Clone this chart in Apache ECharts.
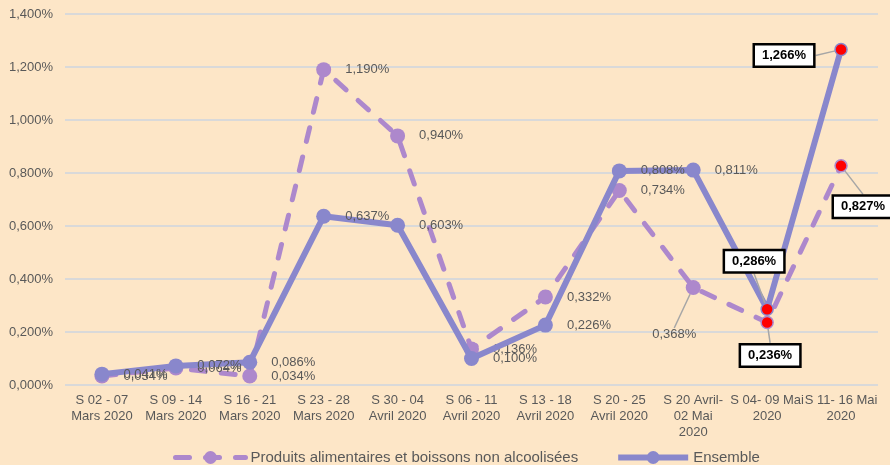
<!DOCTYPE html>
<html>
<head>
<meta charset="utf-8">
<script src="https://cdn.jsdelivr.net/npm/echarts@6/dist/echarts.min.js"></script>
<style>
html,body{margin:0;padding:0;background:#FDE6C7;}
#chart{width:890px;height:465px;}
</style>
</head>
<body>
<div id="chart"></div>
<script>
const categories = [
  "S 02 - 07\nMars 2020",
  "S 09 - 14\nMars 2020",
  "S 16 - 21\nMars 2020",
  "S 23 - 28\nMars 2020",
  "S 30 - 04\nAvril 2020",
  "S 06 - 11\nAvril 2020",
  "S 13 - 18\nAvril 2020",
  "S 20 - 25\nAvril 2020",
  "S 20 Avril-\n02 Mai\n2020",
  "S 04- 09 Mai\n2020",
  "S 11- 16 Mai\n2020"
];
const seriesNames = ["Produits alimentaires et boissons non alcoolisées", "Ensemble"];
const produitsValues = [0.034, 0.064, 0.034, 1.190, 0.940, 0.136, 0.332, 0.734, 0.368, 0.236, 0.827];
const ensembleValues = [0.041, 0.072, 0.086, 0.637, 0.603, 0.100, 0.226, 0.808, 0.811, 0.286, 1.266];
const yTicks = { min: 0, max: 1.4, interval: 0.2 };
const highlighted = [9, 10];

const fmt = v => v.toFixed(3).replace('.', ',') + '%';
const TXT = '#595959';
const FONT = 'Liberation Sans';
const COL_P = '#AD88CC';
const COL_E = '#8987CC';

// label offsets (label centre relative to point centre) for moved labels
const moved = {
  '0-8': [-19, 47],
  '1-9': [-13, -48],
  '0-9': [3, 33],
  '1-10': [-57, 6],
  '0-10': [22, 41]
};

const boxLabel = {
  color: '#000', fontWeight: 'bold', fontSize: 13, fontFamily: FONT,
  backgroundColor: '#fff', borderColor: '#000', borderWidth: 2.5,
  padding: [4, 7, 3, 7]
};

function buildData(values, si, color) {
  return values.map((v, i) => {
    const item = { value: v };
    if (highlighted.includes(i)) {
      item.symbolSize = 12;
      item.itemStyle = { color: '#FF0000', borderColor: color, borderWidth: 1.5 };
      item.label = Object.assign({}, boxLabel);
    }
    if (moved[si + '-' + i]) {
      item.labelLine = { show: true, lineStyle: { color: '#A6A6A6', width: 1.5 } };
    }
    return item;
  });
}

function mkSeries(si, values, color, dashed, width) {
  return {
    name: seriesNames[si],
    type: 'line',
    data: buildData(values, si, color),
    symbol: 'circle',
    symbolSize: 15,
    z: si === 1 ? 3 : 2,
    lineStyle: { color: color, width: width, type: dashed ? [14, 16] : 'solid', cap: dashed ? 'round' : 'butt' },
    itemStyle: { color: color },
    label: {
      show: true, position: 'right', distance: 14,
      formatter: p => fmt(p.value),
      color: TXT, fontSize: 13, fontFamily: FONT
    },
    labelLine: { show: false },
    labelLayout: function (p) {
      const key = p.seriesIndex + '-' + p.dataIndex;
      const m = moved[key];
      if (!m) return {};
      const cx = p.rect.x + p.rect.width / 2;
      const cy = p.rect.y + p.rect.height / 2;
      return { x: cx + m[0], y: cy + m[1], align: 'center', verticalAlign: 'middle' };
    },
    emphasis: { disabled: true }
  };
}

const chart = echarts.init(document.getElementById('chart'));
chart.setOption({
  backgroundColor: '#FDE6C7',
  animation: false,
  textStyle: { fontFamily: FONT },
  grid: { left: 65, right: 12, top: 14, bottom: 80, containLabel: false },
  xAxis: {
    type: 'category', data: categories, boundaryGap: true,
    axisLine: { show: false }, axisTick: { show: false },
    axisLabel: { color: TXT, fontSize: 13, fontFamily: FONT, lineHeight: 16, margin: 7, interval: 0 }
  },
  yAxis: {
    type: 'value', min: yTicks.min, max: yTicks.max, interval: yTicks.interval,
    axisLine: { show: false }, axisTick: { show: false },
    axisLabel: { color: TXT, fontSize: 13, fontFamily: FONT, margin: 12, formatter: v => fmt(v) },
    splitLine: { lineStyle: { color: '#D9D9D9', width: 2 } }
  },
  legend: {
    left: 168, top: 445, itemWidth: 70, itemHeight: 16, itemGap: 37,
    textStyle: { color: TXT, fontSize: 15, fontFamily: FONT },
    data: [
      { name: seriesNames[0], lineStyle: { width: 5, type: [14, 16], cap: 'round' } },
      { name: seriesNames[1], lineStyle: { width: 6 } }
    ]
  },
  series: [
    mkSeries(0, produitsValues, COL_P, true, 5),
    mkSeries(1, ensembleValues, COL_E, false, 6)
  ]
});
</script>
</body>
</html>
